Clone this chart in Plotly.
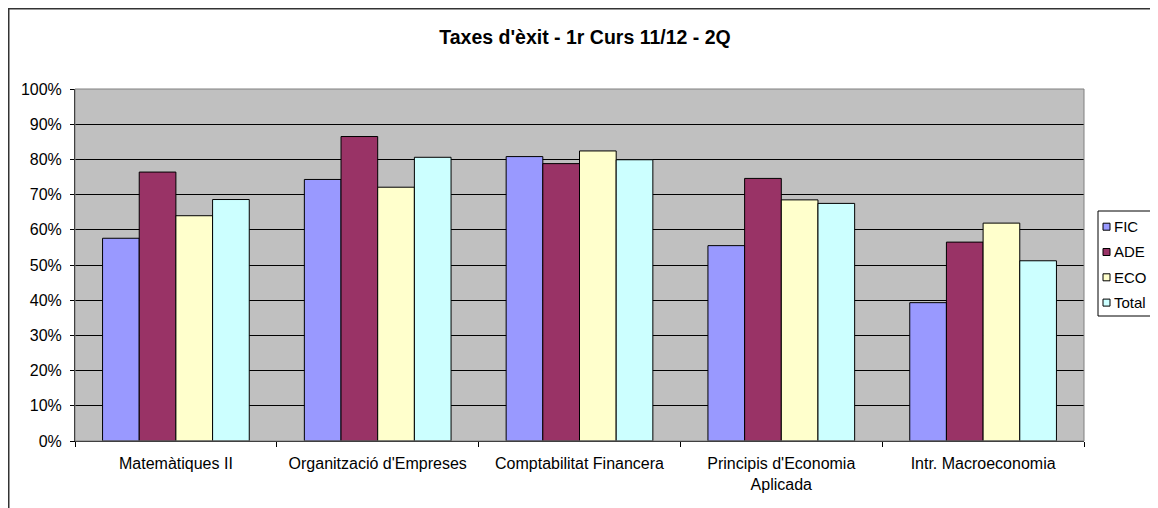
import plotly.graph_objects as go

categories = ["Matemàtiques II", "Organització d'Empreses", "Comptabilitat Financera",
              "Principis d'Economia<br>Aplicada", "Intr. Macroeconomia"]
fic = [0.576, 0.743, 0.808, 0.555, 0.393]
ade = [0.764, 0.865, 0.788, 0.746, 0.565]
eco = [0.640, 0.721, 0.824, 0.685, 0.619]
total = [0.686, 0.806, 0.799, 0.675, 0.512]
series_names = ["FIC", "ADE", "ECO", "Total"]
series_colors = ["#9999FF", "#993366", "#FFFFCC", "#CCFFFF"]

FONT = "Liberation Sans, Arial, sans-serif"

# page has an 8px body margin; layout is expressed in figure pixels
OFF = 8
L, T, PW, PH = 67, 81, 1009, 352
W, H = 1158, 508
R = W - L - PW
B = H - T - PH


def xp(sx):
    """screen x pixel -> paper fraction"""
    return (sx - OFF - L) / PW


def yp(sy):
    """screen y pixel -> paper fraction"""
    return (T + PH - (sy - OFF)) / PH


fig = go.Figure()
for name, vals, col in zip(series_names, [fic, ade, eco, total], series_colors):
    fig.add_trace(go.Bar(
        x=categories, y=vals, name=name,
        marker=dict(color=col, line=dict(color="#000000", width=1)),
    ))

fig.update_layout(
    width=W, height=H,
    margin=dict(l=L, r=R, t=T, b=B, pad=0, autoexpand=False),
    paper_bgcolor="white",
    plot_bgcolor="#C0C0C0",
    barmode="group",
    bargap=0.273,
    bargroupgap=0,
    font=dict(family=FONT, size=16, color="#000000"),
    title=dict(text="<b>Taxes d'èxit - 1r Curs 11/12 - 2Q</b>",
               x=(585 - OFF) / W, xref="container", xanchor="center",
               y=1 - (37 - OFF) / H, yref="container", yanchor="middle",
               font=dict(family=FONT, size=19.5, color="#000000")),
    showlegend=False,
)

fig.update_yaxes(
    range=[0, 1], dtick=0.1, tickformat=".0%",
    showgrid=True, gridcolor="#000000", gridwidth=1,
    showline=True, linecolor="#000000", linewidth=1,
    ticks="outside", ticklen=4, tickcolor="#000000",
    ticklabelstandoff=5, zeroline=False,
    tickfont=dict(family=FONT, size=16),
)
fig.update_xaxes(
    showline=True, linecolor="#000000", linewidth=1,
    ticks="outside", ticklen=5, tickcolor="#000000", tickson="boundaries",
    showgrid=False, tickfont=dict(family=FONT, size=16),
    ticklabelstandoff=8,
)

# plot area border (gray) and outer chart border
fig.add_shape(type="rect", xref="paper", yref="paper", x0=0, x1=1, y0=0, y1=1,
              line=dict(color="#808080", width=1), layer="above")
fig.add_shape(type="rect", xref="paper", yref="paper",
              x0=xp(OFF + 0.75), x1=xp(W + 40), y0=yp(H + 40), y1=yp(OFF + 0.75),
              line=dict(color="#333333", width=1.5), layer="above")

# legend box (Excel style)
fig.add_shape(type="rect", xref="paper", yref="paper",
              x0=xp(1098), x1=xp(1157), y0=yp(316), y1=yp(211),
              line=dict(color="#000000", width=1), fillcolor="white", layer="above")
for i, (name, col) in enumerate(zip(series_names, series_colors)):
    cy = 226.7 + 25.3 * i
    fig.add_shape(type="rect", xref="paper", yref="paper",
                  x0=xp(1103), x1=xp(1110), y0=yp(cy + 3.5), y1=yp(cy - 3.5),
                  line=dict(color="#000000", width=1), fillcolor=col, layer="above")
    fig.add_annotation(xref="paper", yref="paper", x=xp(1112), y=yp(cy),
                       xanchor="left", yanchor="middle", showarrow=False,
                       text=name, font=dict(family=FONT, size=15, color="#000000"))

fig.write_html("out.html")
